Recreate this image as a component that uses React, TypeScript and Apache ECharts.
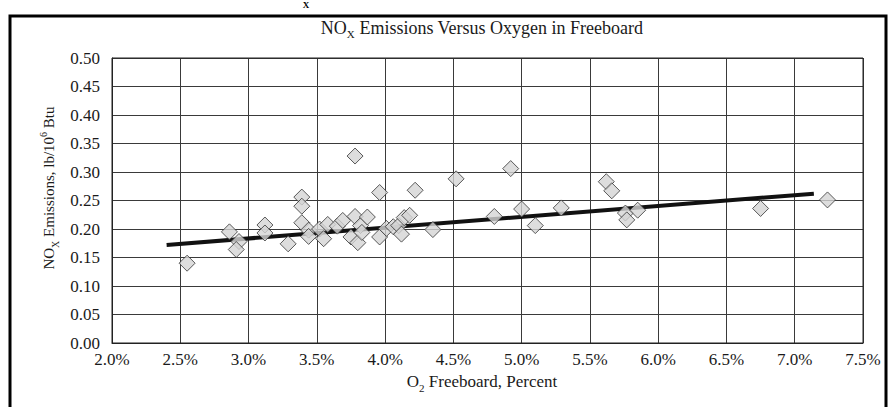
import React, { useEffect, useRef } from "react";
import * as echarts from "echarts";

// O2 in freeboard (%) and NOx emissions (lb/10^6 Btu)
const o2Percent = [
  2.55, 2.86, 2.93, 2.91, 3.12, 3.12, 3.29, 3.39, 3.39, 3.39,
  3.44, 3.44, 3.52, 3.55, 3.58, 3.65, 3.69, 3.75, 3.78, 3.78,
  3.80, 3.82, 3.83, 3.87, 3.96, 3.96, 4.01, 4.06, 4.10, 4.12,
  4.14, 4.18, 4.22, 4.35, 4.52, 4.80, 4.92, 5.00, 5.10, 5.29,
  5.62, 5.66, 5.76, 5.77, 5.85, 6.75, 7.24,
];
const noxEmissions = [
  0.140, 0.195, 0.178, 0.164, 0.207, 0.193, 0.174, 0.256, 0.240, 0.211,
  0.198, 0.187, 0.200, 0.183, 0.208, 0.205, 0.215, 0.186, 0.328, 0.222,
  0.176, 0.206, 0.194, 0.221, 0.264, 0.186, 0.201, 0.204, 0.206, 0.191,
  0.220, 0.224, 0.268, 0.199, 0.288, 0.222, 0.306, 0.235, 0.206, 0.237,
  0.283, 0.267, 0.228, 0.216, 0.233, 0.236, 0.251,
];
// linear trend line end points
const trendX = [2.4, 7.14];
const trendY = [0.172, 0.262];

const xMin = 2.0;
const xMax = 7.5;
const xStep = 0.5;
const yMin = 0;
const yMax = 0.5;
const yStep = 0.05;

const chartTitle = "NO|X| Emissions Versus Oxygen in Freeboard";
const serif = "'Liberation Serif', 'Times New Roman', serif";

export default function App() {
  const ref = useRef<HTMLDivElement>(null);

  useEffect(() => {
    document.body.style.margin = "0";
    const chart = echarts.init(ref.current!, null, { renderer: "svg" });
    const scatterData = o2Percent.map((x, i) => [x, noxEmissions[i]]);
    const trendData = trendX.map((x, i) => [x, trendY[i]]);
    const txt = "#1a1a1a";
    const richMain = { fontSize: 15, fontFamily: serif, fill: txt, lineHeight: 22 };
    const richSub = { fontSize: 10, fontFamily: serif, fill: txt, verticalAlign: "bottom", lineHeight: 11 };
    const richSup = { fontSize: 10, fontFamily: serif, fill: txt, verticalAlign: "top", lineHeight: 10 };
    const [t1, t2, t3] = chartTitle.split("|");

    chart.setOption({
      animation: false,
      backgroundColor: "#ffffff",
      grid: { left: 112, top: 58, width: 751, height: 285 },
      xAxis: {
        type: "value",
        min: xMin,
        max: xMax,
        interval: xStep,
        axisLine: { show: true, lineStyle: { color: "#222", width: 1 } },
        axisTick: { show: false },
        splitLine: { show: true, lineStyle: { color: "#3a3a3a", width: 1 } },
        axisLabel: {
          formatter: (v: number) => v.toFixed(1) + "%",
          fontFamily: serif,
          fontSize: 17,
          color: txt,
          margin: 8,
        },
      },
      yAxis: {
        type: "value",
        min: yMin,
        max: yMax,
        interval: yStep,
        axisLine: { show: true, lineStyle: { color: "#222", width: 1 } },
        axisTick: { show: false },
        splitLine: { show: true, lineStyle: { color: "#3a3a3a", width: 1 } },
        axisLabel: {
          formatter: (v: number) => v.toFixed(2),
          fontFamily: serif,
          fontSize: 17,
          color: txt,
          margin: 12,
        },
      },
      graphic: [
        {
          type: "rect",
          shape: { x: 10, y: 16, width: 876, height: 420 },
          style: { fill: "none", stroke: "#000", lineWidth: 3 },
          silent: true,
        },
        {
          type: "rect",
          shape: { x: 112, y: 58, width: 751, height: 285 },
          style: { fill: "none", stroke: "#222", lineWidth: 1 },
          silent: true,
          z: 1,
        },
        {
          type: "text",
          x: 306,
          y: 0,
          style: {
            text: "X",
            fontFamily: serif,
            fontWeight: "bold",
            fontSize: 9,
            fill: "#000",
            align: "center",
            verticalAlign: "top",
          },
        },
        {
          type: "text",
          x: 482,
          y: 28,
          style: {
            text: `{a|${t1}}{s|${t2}}{a|${t3}}`,
            rich: { a: { ...richMain, fontSize: 18 }, s: { ...richSub, fontSize: 11 } },
            align: "center",
            verticalAlign: "middle",
          },
        },
        {
          type: "text",
          x: 49,
          y: 188,
          rotation: Math.PI / 2,
          style: {
            text: "{a|NO}{s|X}{a| Emissions, lb/10}{p|6}{a| Btu}",
            rich: { a: richMain, s: richSub, p: richSup },
            align: "center",
            verticalAlign: "middle",
          },
        },
        {
          type: "text",
          x: 482,
          y: 381,
          style: {
            text: "{a|O}{s|2}{a| Freeboard, Percent}",
            rich: { a: { ...richMain, fontSize: 17, lineHeight: 24 }, s: { ...richSub, fontSize: 11 } },
            align: "center",
            verticalAlign: "middle",
          },
        },
      ],
      series: [
        {
          name: "Trend",
          type: "line",
          data: trendData,
          symbol: "none",
          lineStyle: { color: "#111", width: 4 },
          z: 2,
        },
        {
          name: "NOx",
          type: "scatter",
          data: scatterData,
          symbol: "diamond",
          symbolSize: 16,
          itemStyle: { color: "#d4d4d4", borderColor: "#333", borderWidth: 1 },
          z: 3,
        },
      ],
    });
    return () => chart.dispose();
  }, []);

  return (
    <div
      ref={ref}
      style={{ position: "absolute", left: 0, top: 0, width: 894, height: 407 }}
    />
  );
}
